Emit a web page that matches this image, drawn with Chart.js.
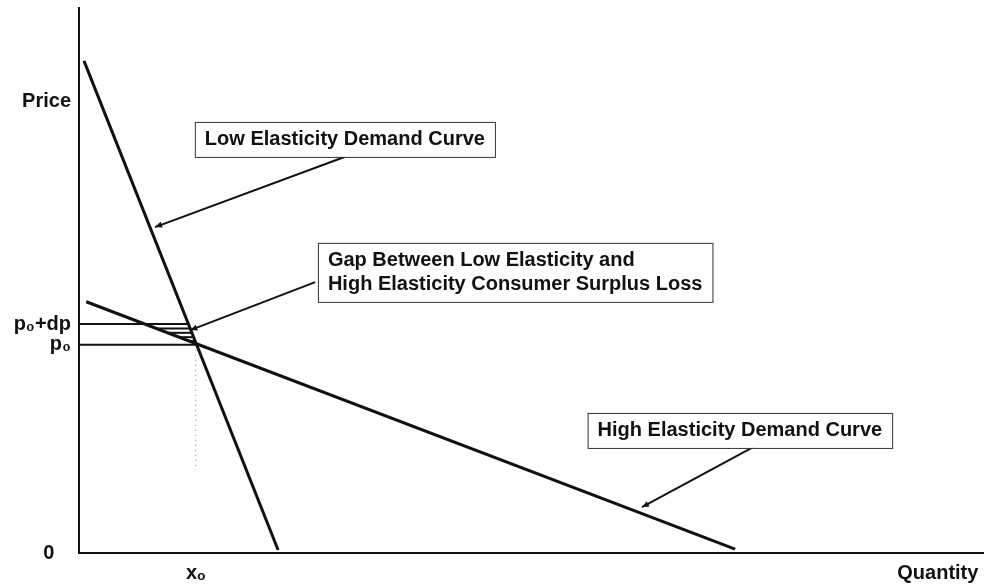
<!DOCTYPE html>
<html>
<head>
<meta charset="utf-8">
<script src="https://cdn.jsdelivr.net/npm/chart.js@4.4.1/dist/chart.umd.min.js"></script>
<style>
  html, body { margin: 0; padding: 0; background: #fff; }
  #wrap { width: 984px; height: 588px; }
</style>
</head>
<body>
<div id="wrap"><canvas id="demandChart"></canvas></div>
<script>
// both axes run 0-100 (unitless quantity / price)
const lowElasticity = [[0.55, 90.3], [22.0, 0.55]];
const highElasticity = [[0.8, 46.1], [72.5, 0.7]];

const x0 = 12.9;
const p0 = 38.2;
const dp = 3.8;
const hatchLevels = [41.2, 40.4, 39.6, 38.9];
const dottedBottom = 15.2;

const yTickValues = [0, p0, p0 + dp, 82.8];
const yTickLabels = ['0', 'p₀', 'p₀+dp', 'Price'];
const xTickValues = [x0, 94.9];
const xTickLabels = ['xₒ', 'Quantity'];

const callouts = [
    { lines: ['Low Elasticity Demand Curve'], box: [12.8, 79.1], tail: [29.4, 72.7], tip: [8.4, 59.8] },
    { lines: ['Gap Between Low Elasticity and', 'High Elasticity Consumer Surplus Loss'], box: [26.4, 56.9], tail: [26.1, 49.7], tip: [12.3, 40.9] },
    { lines: ['High Elasticity Demand Curve'], box: [56.2, 25.7], tail: [74.9, 19.8], tip: [62.2, 8.4] }
];

const INK = '#111';
const FONT = { family: '"Liberation Sans", Arial, "DejaVu Sans", sans-serif', size: 20, weight: 'bold' };

function toPts(arr) {
    return arr.map(function (p) { return { x: p[0], y: p[1] }; });
}

// x where a straight two-point curve reaches price y
function xAt(line, y) {
    const a = line[0], b = line[1];
    return a[0] + (y - a[1]) * (b[0] - a[0]) / (b[1] - a[1]);
}

function lineSet(data, width, dash, color) {
    return {
        data: data,
        showLine: true,
        borderColor: color || INK,
        borderWidth: width,
        borderDash: dash || [],
        pointRadius: 0,
        fill: false
    };
}

const datasets = [
    lineSet(toPts(lowElasticity), 3),
    lineSet(toPts(highElasticity), 3),
    lineSet([{ x: 0, y: p0 }, { x: x0, y: p0 }], 2),
    lineSet([{ x: 0, y: p0 + dp }, { x: xAt(lowElasticity, p0 + dp), y: p0 + dp }], 2),
    lineSet([{ x: x0, y: p0 }, { x: x0, y: dottedBottom }], 1, [1, 4], '#777')
];
hatchLevels.forEach(function (h) {
    datasets.push(lineSet([{ x: xAt(highElasticity, h), y: h }, { x: xAt(lowElasticity, h), y: h }], 2));
});

const calloutPlugin = {
    id: 'callouts',
    afterDatasetsDraw: function (chart) {
        const ctx = chart.ctx;
        const sx = chart.scales.x, sy = chart.scales.y;
        ctx.save();
        ctx.font = FONT.weight + ' ' + FONT.size + 'px ' + FONT.family;
        callouts.forEach(function (c) {
            const tx = sx.getPixelForValue(c.tail[0]), ty = sy.getPixelForValue(c.tail[1]);
            const hx = sx.getPixelForValue(c.tip[0]), hy = sy.getPixelForValue(c.tip[1]);
            ctx.strokeStyle = INK;
            ctx.lineWidth = 2;
            ctx.beginPath();
            ctx.moveTo(tx, ty);
            ctx.lineTo(hx, hy);
            ctx.stroke();
            const ang = Math.atan2(hy - ty, hx - tx);
            ctx.fillStyle = INK;
            ctx.beginPath();
            ctx.moveTo(hx, hy);
            ctx.lineTo(hx - 7 * Math.cos(ang) + 3 * Math.sin(ang), hy - 7 * Math.sin(ang) - 3 * Math.cos(ang));
            ctx.lineTo(hx - 7 * Math.cos(ang) - 3 * Math.sin(ang), hy - 7 * Math.sin(ang) + 3 * Math.cos(ang));
            ctx.closePath();
            ctx.fill();

            const bx = sx.getPixelForValue(c.box[0]), by = sy.getPixelForValue(c.box[1]);
            const w = Math.max.apply(null, c.lines.map(function (t) { return ctx.measureText(t).width; })) + 20;
            const h = c.lines.length * 24 + 11;
            ctx.fillStyle = '#fff';
            ctx.fillRect(bx, by, w, h);
            ctx.lineWidth = 1;
            ctx.strokeStyle = '#333';
            ctx.strokeRect(bx + 0.5, by + 0.5, w, h);
            ctx.fillStyle = INK;
            ctx.textBaseline = 'middle';
            ctx.textAlign = 'left';
            c.lines.forEach(function (t, i) {
                ctx.fillText(t, bx + 10, by + 18 + i * 24);
            });
        });
        ctx.restore();
    }
};

new Chart(document.getElementById('demandChart'), {
    type: 'scatter',
    data: { datasets: datasets },
    options: {
        responsive: true,
        maintainAspectRatio: false,
        animation: false,
        layout: { padding: { top: 8, right: 0, left: 0, bottom: 0 } },
        plugins: { legend: { display: false }, tooltip: { enabled: false } },
        scales: {
            x: {
                type: 'linear',
                min: 0,
                max: 100,
                grid: { display: false, drawTicks: false },
                border: { display: true, color: INK, width: 2 },
                afterBuildTicks: function (s) { s.ticks = xTickValues.map(function (v) { return { value: v }; }); },
                afterFit: function (s) {
                    s.height = 35;
                    s.paddingLeft = 0;
                    s.paddingRight = 0;
                },
                ticks: {
                    autoSkip: false,
                    maxRotation: 0,
                    padding: 8,
                    color: INK,
                    font: FONT,
                    callback: function (v, i) { return xTickLabels[i]; }
                }
            },
            y: {
                type: 'linear',
                min: 0,
                max: 100,
                grid: { display: false, drawTicks: false },
                border: { display: true, color: INK, width: 2 },
                afterBuildTicks: function (s) { s.ticks = yTickValues.map(function (v) { return { value: v }; }); },
                afterFit: function (s) {
                    s.width = 79;
                    s.paddingTop = 0;
                    s.paddingBottom = 0;
                },
                ticks: {
                    autoSkip: false,
                    padding: 8,
                    color: INK,
                    font: FONT,
                    // the origin label sits further out than the others
                    callback: function (v, i) { return yTickLabels[i] === '0' ? '0   ' : yTickLabels[i]; }
                }
            }
        }
    },
    plugins: [calloutPlugin]
});
</script>
</body>
</html>
